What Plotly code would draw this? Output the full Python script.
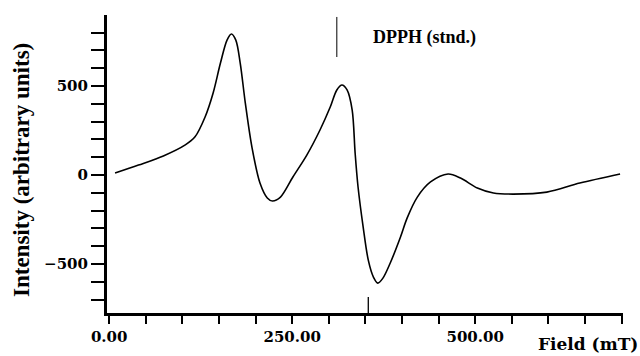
import plotly.graph_objects as go

# Spectrum trace
field_mT = [8, 40, 74, 104, 117, 131, 142, 152, 161, 167, 173, 179, 186, 195, 206, 216,
            223, 234, 251, 270, 288, 302, 311, 318, 325, 332, 336, 340, 347, 354, 361,
            367, 374, 384, 398, 407, 421, 439, 463, 480, 503, 525, 552, 598, 643, 698]
intensity = [11, 56, 107, 169, 213, 326, 461, 629, 758, 792, 758, 629, 404, 157, -45, -129,
             -146, -124, -11, 112, 253, 382, 478, 506, 478, 365, 124, -67, -292, -478, -573,
             -607, -579, -494, -348, -242, -124, -39, 6, -17, -73, -101, -107, -96, -45, 6]

dpph_field = 311
dpph_top = [663, 888]
lower_mark_field = 354
lower_mark_top = -685

y_tickvals = [-500, 0, 500]
x_tickvals = [0, 250, 500]
x_ticktext = ["0.00", "250.00", "500.00"]

x_range = [-3, 702]
y_range = [-775, 899]

serif = "Liberation Serif"
wide_serif = "DejaVu Serif"

fig = go.Figure()
fig.add_trace(go.Scatter(x=field_mT, y=intensity, mode="lines",
                         line=dict(color="black", width=1.6, shape="spline", smoothing=0.9),
                         hoverinfo="skip", showlegend=False))

fig.add_shape(type="line", x0=dpph_field, x1=dpph_field, y0=dpph_top[0], y1=dpph_top[1],
              xref="x", yref="y", line=dict(color="black", width=1))
fig.add_shape(type="line", x0=lower_mark_field, x1=lower_mark_field, y0=y_range[0], y1=lower_mark_top,
              xref="x", yref="y", line=dict(color="black", width=1.3))

fig.add_annotation(x=358, y=775, xref="x", yref="y", text="<b>DPPH (stnd.)</b>",
                   showarrow=False, xanchor="left", yanchor="middle",
                   font=dict(family=serif, size=18, color="black"))
fig.add_annotation(x=(21 - 107) / 516, y=(313 - 170) / 298, xref="paper", yref="paper",
                   text="<b>Intensity (arbitrary units)</b>", textangle=-90, showarrow=False,
                   xanchor="center", yanchor="middle",
                   font=dict(family=serif, size=23, color="black"))
fig.add_annotation(x=(640 - 107) / 516, y=(313 - 344) / 298, xref="paper", yref="paper",
                   text="<b>Field (mT)</b>", showarrow=False, xanchor="right", yanchor="middle",
                   font=dict(family=wide_serif, size=17, color="black"))

fig.update_layout(
    width=640, height=356,
    margin=dict(l=107, r=17, t=15, b=43, autoexpand=False),
    paper_bgcolor="white", plot_bgcolor="white",
    showlegend=False,
    xaxis=dict(range=x_range, showgrid=False, zeroline=False, showline=True, automargin=False,
               linecolor="black", linewidth=3,
               tickvals=x_tickvals, ticktext=x_ticktext, ticks="outside", ticklen=8,
               tickwidth=2, tickcolor="black",
               minor=dict(dtick=50, tick0=0, ticks="outside", ticklen=8, tickwidth=2, tickcolor="black"),
               tickfont=dict(family=wide_serif, size=15, color="black", weight="bold")),
    yaxis=dict(range=y_range, showgrid=False, zeroline=False, showline=True, automargin=False,
               linecolor="black", linewidth=3,
               tickvals=y_tickvals, ticks="outside", ticklen=13, tickwidth=2, tickcolor="black",
               minor=dict(dtick=100, tick0=0, ticks="outside", ticklen=13, tickwidth=2, tickcolor="black"),
               tickfont=dict(family=wide_serif, size=15, color="black", weight="bold")),
)

fig.write_html("out.html", config={"displayModeBar": False},
               post_script="document.body.style.margin='0';")
